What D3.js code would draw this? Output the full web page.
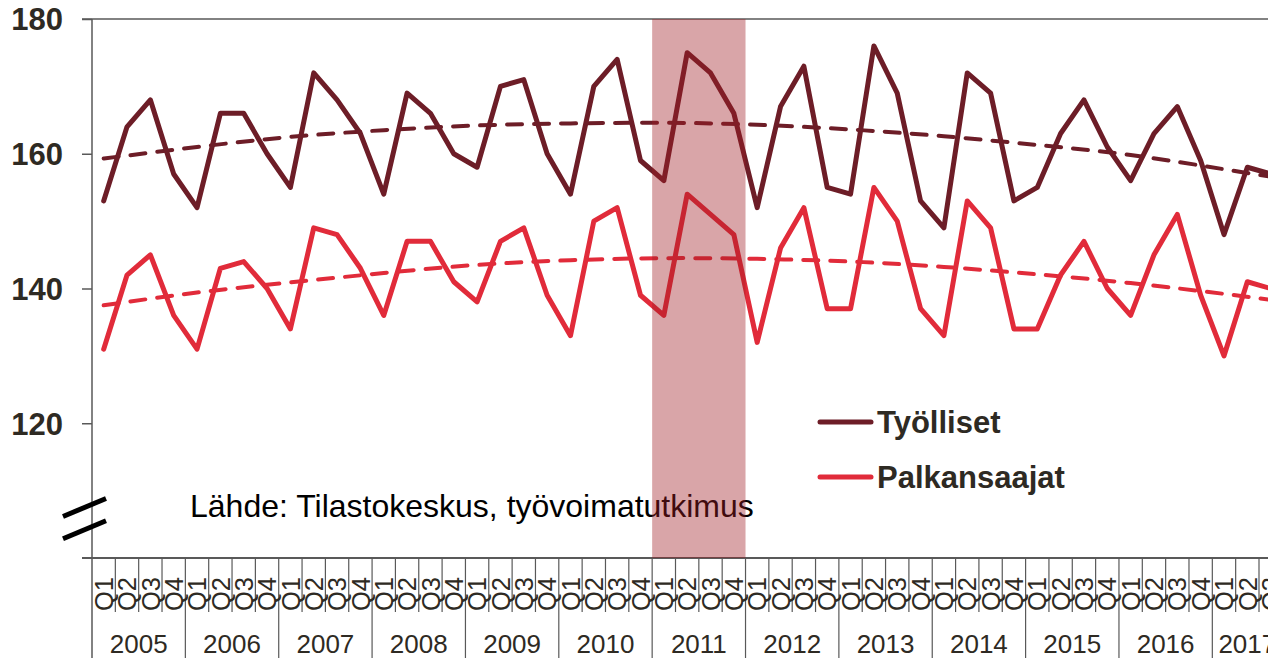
<!DOCTYPE html>
<html>
<head>
<meta charset="utf-8">
<script src="https://cdn.jsdelivr.net/npm/d3@7"></script>
<style>
html,body{margin:0;padding:0;background:#fff;overflow:hidden;}
svg{display:block;font-family:"Liberation Sans",Arial,sans-serif;}
</style>
</head>
<body>
<svg id="chart" width="1268" height="658"></svg>
<script>
// ---- data ----
const years = [2005,2006,2007,2008,2009,2010,2011,2012,2013,2014,2015,2016,2017];
const quarterLabels = ["Q1","Q2","Q3","Q4"];
const lastYearQuarters = 3;
const tyolliset = [153,164,168,157, 152,166,166,160, 155,172,168,163, 154,169,166,160,
                   158,170,171,160, 154,170,174,159, 156,175,172,166, 152,167,173,155,
                   154,176,169,153, 149,172,169,153, 155,163,168,161, 156,163,167,159,
                   148,158,157];
const palkansaajat = [131,142,145,136, 131,143,144,140, 134,149,148,143, 136,147,147,141,
                      138,147,149,139, 133,150,152,139, 136,154,151,148, 132,146,152,137,
                      137,155,150,137, 133,153,149,134, 134,142,147,140, 136,145,151,139,
                      130,141,140];
// trend (dashed) read at Q1 of each year and at the last quarter
const trendKeys = ["2005 Q1","2006 Q1","2007 Q1","2008 Q1","2009 Q1","2010 Q1","2011 Q1",
                   "2012 Q1","2013 Q1","2014 Q1","2015 Q1","2016 Q1","2017 Q1","2017 Q3"];
const tyollisetTrend = [159.3,161.0,162.5,163.5,164.2,164.5,164.6,164.3,163.6,162.6,161.3,159.8,157.7,156.6];
const palkansaajatTrend = [137.5,139.4,140.9,142.3,143.5,144.2,144.5,144.4,144.0,143.2,142.1,140.8,139.2,138.3];
const yTicks = [120,140,160,180];
const shadedYear = 2011;
const seriesNames = ["Työlliset","Palkansaajat"];
const sourceText = "Lähde: Tilastokeskus, työvoimatutkimus";

// ---- build categories ----
const categories = [];
years.forEach((yr,i)=>{
  const n = (i===years.length-1) ? lastYearQuarters : 4;
  for(let q=0;q<n;q++) categories.push(yr+" "+quarterLabels[q]);
});

const colDark = "#6d1d27", colRed = "#e12b3a", axisCol = "#595959", textCol = "#2e2a23";

const svg = d3.select("#chart");
const mLeft = 92, mTop = 19, mBottom = 558;
const qw = 23.34;
const x = d3.scaleBand().domain(categories).range([mLeft, mLeft + categories.length*qw]).padding(0);
const y = d3.scaleLinear().domain([100,180]).range([mBottom, mTop]);
const xc = c => x(c) + x.bandwidth()/2;

// top border
svg.append("line").attr("x1",82).attr("x2",1268).attr("y1",y(180)).attr("y2",y(180))
  .attr("stroke",axisCol).attr("stroke-width",1.5);

// y axis
const yAxis = d3.axisLeft(y).tickValues(yTicks).tickSize(10).tickFormat(d3.format("d"));
const gy = svg.append("g").attr("transform",`translate(${mLeft},0)`).call(yAxis);
gy.select(".domain").remove();
gy.selectAll(".tick line").attr("stroke",axisCol).attr("stroke-width",1.5);
gy.selectAll(".tick text").attr("x",-29).attr("dy","0.35em")
  .attr("fill",textCol).attr("font-size",31).attr("font-weight","bold")
  .attr("font-family","'Liberation Sans',Arial,sans-serif");
// left vertical line (extends through category area)
svg.append("line").attr("x1",mLeft).attr("x2",mLeft).attr("y1",mTop).attr("y2",658)
  .attr("stroke",axisCol).attr("stroke-width",1.5);
// bottom axis line
svg.append("line").attr("x1",82).attr("x2",1268).attr("y1",mBottom).attr("y2",mBottom)
  .attr("stroke",axisCol).attr("stroke-width",2);

// category separators
const gx = svg.append("g");
categories.forEach((c,i)=>{
  if(i===0) return;
  const isYear = c.endsWith("Q1");
  gx.append("line").attr("x1",x(c)).attr("x2",x(c)).attr("y1",mBottom).attr("y2",isYear?658:612)
    .attr("stroke",axisCol).attr("stroke-width",1.2);
});
{
  const c = categories[categories.length-1];
  gx.append("line").attr("x1",x(c)+qw).attr("x2",x(c)+qw).attr("y1",mBottom).attr("y2",612)
    .attr("stroke",axisCol).attr("stroke-width",1.2);
}
// quarter labels
categories.forEach(c=>{
  const q = c.split(" ")[1];
  gx.append("text").attr("transform",`translate(${xc(c)},594) rotate(-90)`)
    .attr("text-anchor","middle").attr("dy","0.36em")
    .attr("font-size",25.5).attr("fill",textCol).text(q);
});
// year labels
years.forEach((yr,i)=>{
  const n = (i===years.length-1) ? lastYearQuarters : 4;
  const x0 = x(yr+" Q1");
  gx.append("text").attr("x",x0 + n*qw/2).attr("y",653).attr("text-anchor","middle")
    .attr("font-size",26).attr("fill",textCol).text(yr);
});

// break marks
[107.5,104.2].forEach(v=>{
  svg.append("line").attr("x1",63).attr("x2",106)
    .attr("y1",y(v)+9).attr("y2",y(v)-9)
    .attr("stroke","#000").attr("stroke-width",5);
});

// lines
const line = d3.line().x(d=>xc(d.c)).y(d=>y(d.v));
const trendLine = d3.line().x(d=>xc(d.c)).y(d=>y(d.v)).curve(d3.curveNatural);
svg.append("defs").append("clipPath").attr("id","clip")
  .append("rect").attr("x",mLeft).attr("y",0).attr("width",1268-mLeft).attr("height",mBottom);
const plot = svg.append("g").attr("clip-path","url(#clip)");

function addSeries(vals, trend, col){
  plot.append("path").datum(trendKeys.map((c,i)=>({c, v:trend[i]})))
    .attr("d",trendLine).attr("fill","none").attr("stroke",col).attr("stroke-width",4)
    .attr("stroke-dasharray","15,12").attr("stroke-linecap","round");
  plot.append("path").datum(categories.map((c,i)=>({c, v:vals[i]})))
    .attr("d",line).attr("fill","none").attr("stroke",col).attr("stroke-width",5)
    .attr("stroke-linejoin","round").attr("stroke-linecap","round");
}
addSeries(palkansaajat, palkansaajatTrend, colRed);
addSeries(tyolliset, tyollisetTrend, colDark);

// legend
const leg = svg.append("g");
[[seriesNames[0],colDark,422],[seriesNames[1],colRed,477]].forEach(([name,col,ly])=>{
  leg.append("line").attr("x1",820).attr("x2",871).attr("y1",ly).attr("y2",ly)
    .attr("stroke",col).attr("stroke-width",5).attr("stroke-linecap","round");
  leg.append("text").attr("x",877).attr("y",ly).attr("dy","0.35em")
    .attr("font-size",31).attr("font-weight","bold").attr("fill",textCol).text(name);
});

// source
svg.append("text").attr("x",190).attr("y",517).attr("font-size",32).attr("fill","#000").text(sourceText);

// shaded band (drawn on top)
svg.append("rect").attr("x",x(shadedYear+" Q1")).attr("y",mTop)
  .attr("width",4*qw).attr("height",mBottom-mTop)
  .attr("fill","rgb(160,30,37)").attr("fill-opacity",0.4);
</script>
</body>
</html>
